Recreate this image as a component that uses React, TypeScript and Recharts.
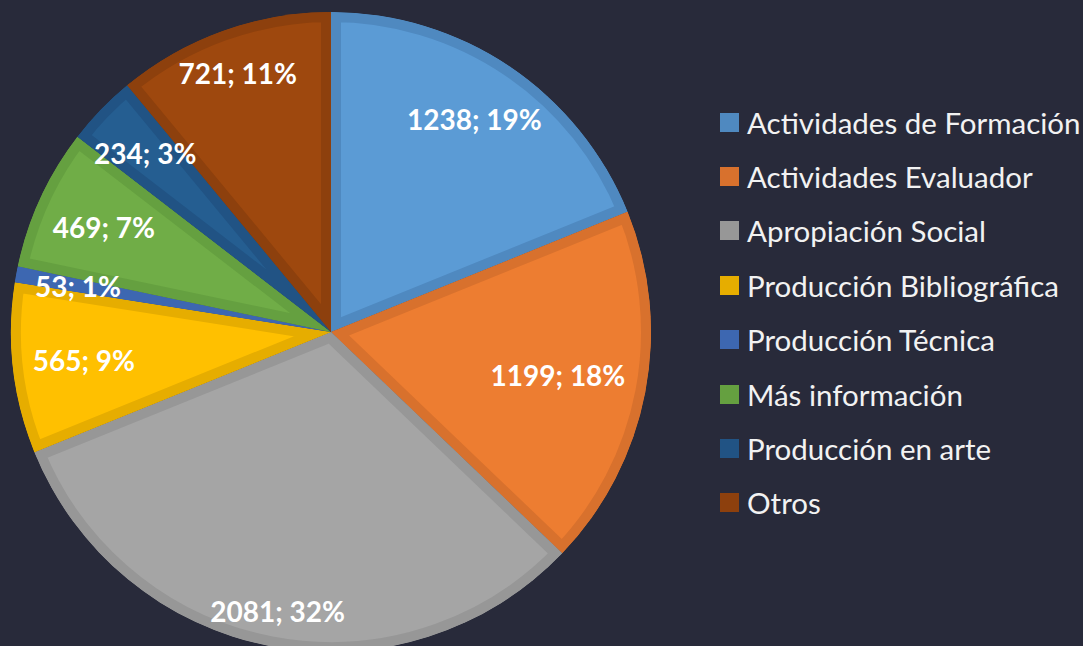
import { PieChart, Pie, Legend, Sector } from "recharts";

const categories = [
  "Actividades de Formación",
  "Actividades Evaluador",
  "Apropiación Social",
  "Producción Bibliográfica",
  "Producción Técnica",
  "Más información",
  "Producción en arte",
  "Otros",
];
const counts = [1238, 1199, 2081, 565, 53, 469, 234, 721];
const percents = [19, 18, 32, 9, 1, 7, 3, 11];

const fills = ["#5b9bd5", "#ed7d31", "#a5a5a5", "#ffc000", "#4472c4", "#70ad47", "#255e91", "#9e480e"];
const borders = ["#4f89c0", "#d8712d", "#979797", "#e6ad00", "#3d67b1", "#65a040", "#215384", "#8d400d"];

const data = categories.map((name, i) => ({
  name,
  value: counts[i],
  pct: percents[i],
  fill: fills[i],
  border: borders[i],
}));

const BG = "#282a3a";
const RADIAN = Math.PI / 180;
const LABEL_FONT = 28;

const renderSlice = (props: any) => {
  const { cx, cy, innerRadius, outerRadius, startAngle, endAngle, fill } = props;
  const idx = categories.indexOf(props.name ?? props.payload?.name);
  const border = props.border ?? props.payload?.border ?? fill;
  const id = `slice-clip-${idx}`;
  const geom = { cx, cy, innerRadius, outerRadius, startAngle, endAngle };
  return (
    <g>
      <defs>
        <clipPath id={id}>
          <Sector {...geom} />
        </clipPath>
      </defs>
      <g clipPath={`url(#${id})`}>
        <Sector {...geom} fill={fill} stroke={border} strokeWidth={20} />
      </g>
    </g>
  );
};

// labels sit inside the slice, pushed out until the text box nearly meets the rim
const renderLabel = (props: any) => {
  const { cx, cy, midAngle, outerRadius, value, payload } = props;
  const text = `${value}; ${payload?.pct ?? props.pct}%`;
  const halfW = (text.length * 14.8) / 2;
  const halfH = 13;
  const ux = Math.cos(-midAngle * RADIAN);
  const uy = Math.sin(-midAngle * RADIAN);
  const d = outerRadius - 8 - 1.2 * halfW * Math.abs(ux) - halfH * Math.abs(uy);
  return (
    <text
      x={cx + d * ux}
      y={cy + d * uy}
      fill="#ffffff"
      textAnchor="middle"
      dominantBaseline="central"
      fontFamily="Lato, sans-serif"
      fontWeight={700}
      fontSize={LABEL_FONT}
    >
      {text}
    </text>
  );
};

const renderLegend = (props: any) => {
  const items = [...(props.payload ?? [])].sort(
    (a: any, b: any) => categories.indexOf(a.value) - categories.indexOf(b.value)
  );
  return (
    <div style={{ fontFamily: "Lato, sans-serif" }}>
      {items.map((it: any) => (
        <div
          key={it.value}
          style={{ display: "flex", alignItems: "center", height: 54.4, whiteSpace: "nowrap" }}
        >
          <span
            style={{
              width: 19,
              height: 19,
              marginRight: 8,
              background: it.payload?.border ?? it.color,
              display: "inline-block",
              flex: "none",
            }}
          />
          <span style={{ fontSize: 29.5, color: "#f2f2f2" }}>{it.value}</span>
        </div>
      ))}
    </div>
  );
};

export default function App() {
  return (
    <div style={{ position: "fixed", left: 0, top: 0, width: 1083, height: 646, background: BG }}>
      <PieChart width={1083} height={646} margin={{ top: 0, right: 0, bottom: 0, left: 0 }}>
        <Pie
          data={data}
          dataKey="value"
          nameKey="name"
          cx={331}
          cy={332}
          outerRadius={320}
          startAngle={90}
          endAngle={-270}
          shape={renderSlice}
          label={renderLabel}
          labelLine={false}
          isAnimationActive={false}
        />
        <Legend
          layout="vertical"
          align="center"
          verticalAlign="middle"
          content={renderLegend}
          wrapperStyle={{ left: 720, top: 95, width: 363 }}
        />
      </PieChart>
    </div>
  );
}
